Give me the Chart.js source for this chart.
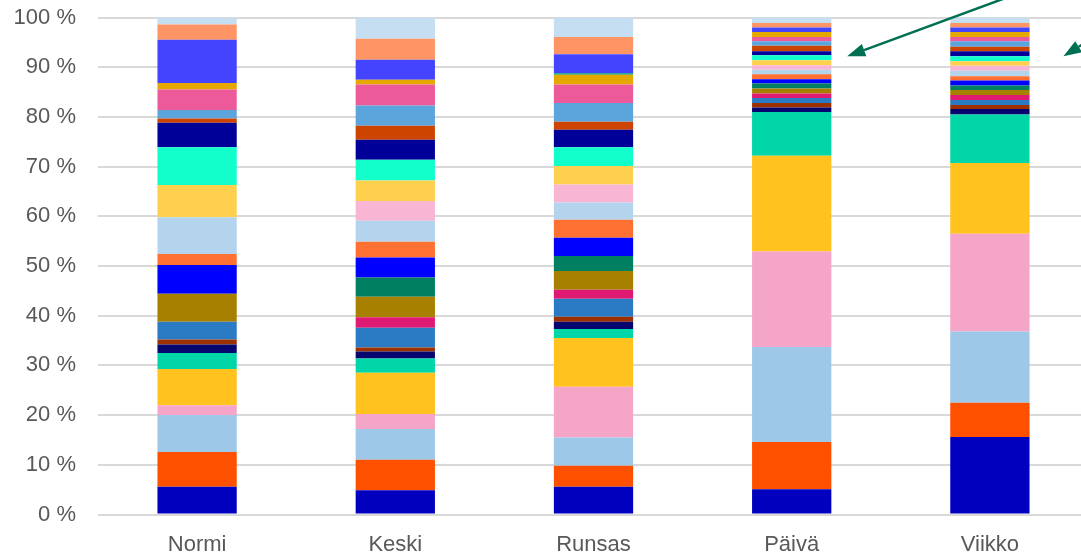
<!DOCTYPE html>
<html lang="fi">
<head>
<meta charset="utf-8">
<title>Osuudet</title>
<script src="https://cdn.jsdelivr.net/npm/chart.js@4.4.1/dist/chart.umd.min.js"></script>
<style>
  html, body { margin: 0; padding: 0; background: #ffffff; overflow: hidden; }
  #wrap { width: 1089px; height: 555px; }
</style>
</head>
<body>
<div id="wrap"><canvas id="chart" width="1089" height="555"></canvas></div>
<script>
// Categories along the x axis
const categories = ['Normi', 'Keski', 'Runsas', 'Päivä', 'Viikko'];

// Share of each component (%) per category, listed bottom to top of the stack
const normi  = [5.6, 7.0, 7.4, 2.0, 7.3, 3.2, 1.7, 1.0, 3.6, 0.0, 5.6, 0.0, 5.8, 2.2, 7.4, 0.0, 6.5, 7.6, 4.9, 0.9, 1.7, 4.1, 1.3, 0.0, 8.7, 3.1, 1.4];
const keski  = [4.9, 6.1, 6.2, 3.0, 8.3, 2.9, 1.4, 0.8, 4.0, 2.1, 4.1, 3.9, 4.0, 3.2, 4.2, 4.0, 4.1, 4.2, 4.0, 2.8, 4.1, 4.2, 1.0, 0.0, 4.0, 4.2, 4.3];
const runsas = [5.6, 4.2, 5.7, 10.2, 9.8, 1.8, 1.5, 1.0, 3.6, 1.8, 3.8, 3.0, 3.7, 3.6, 3.5, 3.6, 3.7, 3.8, 3.5, 1.6, 3.8, 3.7, 2.0, 0.3, 3.8, 3.5, 3.9];
const paiva  = [5.1, 9.5, 19.1, 19.2, 19.3, 8.8, 0.9, 0.9, 1.0, 0.9, 1.0, 1.0, 0.9, 1.0, 0.9, 0.9, 1.0, 1.0, 0.8, 1.1, 0.9, 0.9, 1.0, 0.0, 0.9, 0.9, 1.1];
const viikko = [15.6, 6.9, 14.3, 19.7, 14.2, 9.8, 1.1, 0.8, 1.0, 1.0, 1.0, 0.9, 1.0, 0.9, 1.1, 1.0, 0.9, 1.0, 1.0, 0.9, 1.1, 0.9, 1.0, 0.0, 0.9, 0.9, 1.1];

// Y axis tick values
const yTicks = [0, 10, 20, 30, 40, 50, 60, 70, 80, 90, 100];

// Segment colours, bottom to top
const colors = [
  '#0000BE', '#FF5000', '#9DC8E8', '#F4A5C8', '#FFC21E', '#00D6A8', '#06066E',
  '#9C3000', '#2A7BC4', '#E01A72', '#A88000', '#008060', '#0000FF', '#FF7033',
  '#B4D4EE', '#F8B6D4', '#FFD04E', '#12FFCC', '#000099', '#CC4400', '#5CA4DC',
  '#EC5A9A', '#E4A800', '#00A070', '#4444FF', '#FF9464', '#C6DEF2'
];

const columns = [normi, keski, runsas, paiva, viikko];
const datasets = colors.map((c, i) => ({
  label: 'Osa ' + (i + 1),
  data: columns.map(col => col[i]),
  backgroundColor: c,
  borderWidth: 0,
  barPercentage: 0.4,
  categoryPercentage: 1.0
}));

// Pointer arrows next to the two finely split columns
const arrowPlugin = {
  id: 'pointerArrows',
  afterDraw(chart) {
    const { ctx, scales: { x, y } } = chart;
    const arrows = [
      { cat: 3, dx: 55.5, value: 92.2, slope: 0.368 },
      { cat: 4, dx: 73.5, value: 92.2, slope: 0.62 }
    ];
    ctx.save();
    ctx.strokeStyle = '#007052';
    ctx.fillStyle = '#007052';
    ctx.lineWidth = 2.5;
    arrows.forEach(a => {
      const tx = x.getPixelForValue(a.cat) + a.dx;
      const ty = y.getPixelForValue(a.value);
      const len = Math.hypot(1, a.slope);
      const ux = 1 / len, uy = -a.slope / len;
      const headLen = 18, headHalf = 6.5;
      const bx = tx + ux * headLen, by = ty + uy * headLen;
      ctx.beginPath();
      ctx.moveTo(bx, by);
      ctx.lineTo(tx + ux * 400, ty + uy * 400);
      ctx.stroke();
      ctx.beginPath();
      ctx.moveTo(tx, ty);
      ctx.lineTo(bx - uy * headHalf, by + ux * headHalf);
      ctx.lineTo(bx + uy * headHalf, by - ux * headHalf);
      ctx.closePath();
      ctx.fill();
    });
    ctx.restore();
  }
};

new Chart(document.getElementById('chart'), {
  type: 'bar',
  data: { labels: categories, datasets },
  options: {
    responsive: false,
    animation: false,
    devicePixelRatio: 1,
    layout: { padding: { top: 17.5, right: 0, bottom: 0, left: 0 } },
    plugins: { legend: { display: false }, tooltip: { enabled: false } },
    scales: {
      x: {
        stacked: true,
        grid: { display: false, drawTicks: false },
        border: { display: false },
        ticks: {
          color: '#595959',
          font: { family: 'Liberation Sans, Arial, sans-serif', size: 22 },
          padding: 17,
          maxRotation: 0
        },
        afterFit(scale) { scale.height = 40.5; scale.paddingLeft = 0; scale.paddingRight = 0; }
      },
      y: {
        stacked: true,
        min: 0,
        max: 100,
        afterBuildTicks(scale) { scale.ticks = yTicks.map(v => ({ value: v })); },
        grid: { color: '#d9d9d9', lineWidth: 2, drawTicks: false },
        border: { display: false },
        ticks: {
          color: '#595959',
          font: { family: 'Liberation Sans, Arial, sans-serif', size: 22 },
          padding: 22,
          callback: v => v + ' %'
        },
        afterFit(scale) { scale.width = 98; scale.paddingTop = 0; scale.paddingBottom = 0; }
      }
    }
  },
  plugins: [arrowPlugin]
});
</script>
</body>
</html>
